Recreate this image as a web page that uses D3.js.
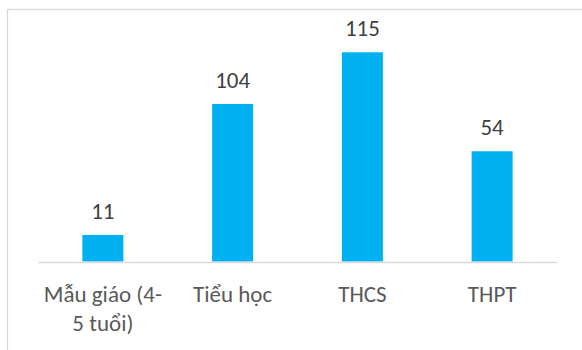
<!DOCTYPE html>
<html>
<head>
<meta charset="utf-8">
<script src="https://cdn.jsdelivr.net/npm/d3@7"></script>
<style>
  html, body { margin: 0; padding: 0; background: #ffffff; }
  svg { display: block; }
  text { font-family: Carlito, Calibri, Lato, "Open Sans", sans-serif; }
</style>
</head>
<body>
<svg id="chart" width="582" height="350"></svg>
<script>
// ---- data ----
const categories = ["Mẫu giáo (4-\n5 tuổi)", "Tiểu học", "THCS", "THPT"];
// printed data labels
const dataLabels = [11, 104, 115, 54];
// bar lengths as drawn (in the same units)
const barValues = [14.6, 86.6, 115, 60.6];
const yMax = 140;

const svg = d3.select("#chart");
const W = 582, H = 350;

// chart frame (extends beyond the right / bottom edges)
svg.append("rect")
  .attr("x", 7.5).attr("y", 9.5)
  .attr("width", W + 20).attr("height", H + 20)
  .attr("fill", "none").attr("stroke", "#d9d9d9").attr("stroke-width", 1.3);

const plot = { left: 38, right: 557, bottom: 261.5, top: 6.8 };

const x = d3.scaleBand()
  .domain(categories)
  .range([plot.left, plot.right])
  .paddingInner(0.684)
  .paddingOuter(0.342);

const y = d3.scaleLinear()
  .domain([0, yMax])
  .range([plot.bottom, plot.top]);

// bars
svg.append("g").selectAll("rect")
  .data(categories)
  .join("rect")
  .attr("x", d => x(d))
  .attr("width", x.bandwidth())
  .attr("y", (d, i) => y(barValues[i]))
  .attr("height", (d, i) => y(0) - y(barValues[i]))
  .attr("fill", "#00b0f0");

// axis
const xAxis = d3.axisBottom(x).tickSize(0).tickSizeOuter(0).tickFormat("");
const gx = svg.append("g").attr("transform", `translate(0,${plot.bottom + 0.5})`).call(xAxis);
gx.select(".domain").attr("stroke", "#d9d9d9").attr("stroke-width", 1.3);

// category labels (multi-line)
gx.selectAll(".tick").each(function(d) {
  const lines = d.split("\n");
  const t = d3.select(this).append("text")
    .attr("text-anchor", "middle")
    .attr("fill", "#595959")
    .attr("font-size", 23)
    .attr("y", 39.5);
  lines.forEach((ln, k) => {
    t.append("tspan").attr("x", 0).attr("dy", k === 0 ? 0 : 29).text(ln);
  });
});

// data labels
svg.append("g").selectAll("text")
  .data(categories)
  .join("text")
  .attr("x", d => x(d) + x.bandwidth() / 2)
  .attr("y", (d, i) => y(barValues[i]) - 16)
  .attr("text-anchor", "middle")
  .attr("fill", "#404040")
  .attr("font-size", 23)
  .text((d, i) => dataLabels[i]);
</script>
</body>
</html>
